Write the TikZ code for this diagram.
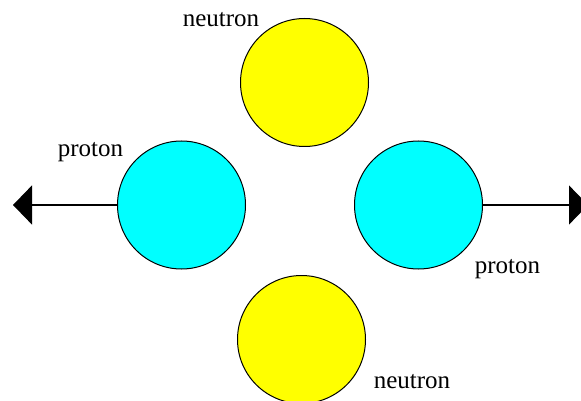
\documentclass[tikz,border=0pt]{standalone}
\usepackage{fontspec}
\setmainfont{Liberation Serif}
\usetikzlibrary{arrows.meta}
\tikzset{
  ball/.style={circle, draw=black, line width=1pt, inner sep=0pt, minimum size=128pt},
  neutronball/.style={ball, fill={rgb,255:red,255;green,255;blue,0}},
  protonball/.style={ball, fill={rgb,255:red,0;green,255;blue,255}},
  lbl/.style={anchor=base, inner sep=0pt, font=\fontsize{25}{30}\selectfont},
  push/.style={line width=1.3pt, -{Triangle[length=19pt,width=39pt]}}
}
\begin{document}
\begin{tikzpicture}[x=1pt,y=-1pt]
\clip (0,0) rectangle (581,401);
\fill[white] (0,0) rectangle (581,401);
\node[neutronball] (nt) at (304.5,82.5) {};
\node[protonball] (pl) at (181.5,205) {};
\node[protonball] (pr) at (418.5,205) {};
\node[neutronball] (nb) at (301.5,339.5) {};
\coordinate (al) at (13,205);
\coordinate (ar) at (588,205);
\draw[push] (pl.west) -- (al);
\draw[push] (pr.east) -- (ar);
\node[lbl] (tnt) at (221,27) {neutron};
\node[lbl] (tpl) at (90.5,157) {proton};
\node[lbl] (tpr) at (507.5,273) {proton};
\node[lbl] (tnb) at (412,388) {neutron};
\end{tikzpicture}
\end{document}
